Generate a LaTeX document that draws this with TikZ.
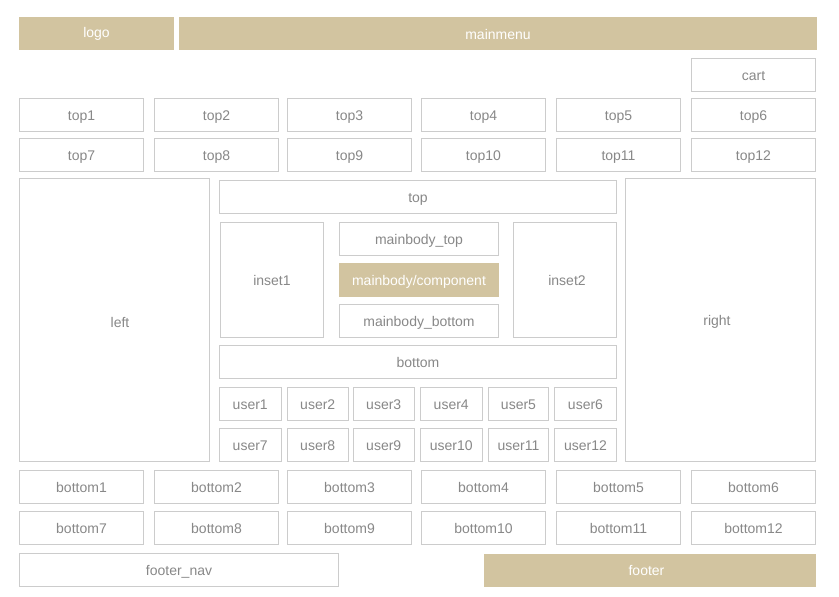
\documentclass[tikz,border=0pt]{standalone}
\usepackage{fontspec}
\setmainfont{Liberation Sans}
\definecolor{tan}{RGB}{210,196,160}
\definecolor{bord}{RGB}{204,204,204}
\definecolor{txt}{RGB}{136,136,136}
\newcommand\bx[7]{\node[#7, minimum width={#4pt-#2pt}, minimum height={#5pt-#3pt}] (#1) at ({(#2+#4)/2},{(#3+#5)/2}) {#6};}
\begin{document}
\begin{tikzpicture}[x=1pt,y=-1pt,
  every node/.style={inner sep=0pt, outer sep=0pt, text height=11pt, text depth=0pt, font=\fontsize{14}{16}\selectfont},
  wbox/.style={draw=bord, line width=1pt, fill=white, text=txt},
  tbox/.style={fill=tan, text=white}]
\useasboundingbox (0,0) rectangle (839,597);
\fill[white] (0,0) rectangle (839,597);
\bx{logo}{19}{17}{174}{50}{logo}{tbox, text depth=4pt}
\bx{mainmenu}{179}{17}{817}{50}{mainmenu}{tbox}
\bx{cart}{691.5}{58.5}{815.5}{91.5}{cart}{wbox}
% top rows
\bx{top1}{19.5}{98.5}{143.5}{131.5}{top1}{wbox}
\bx{top2}{154.5}{98.5}{278.5}{131.5}{top2}{wbox}
\bx{top3}{287.5}{98.5}{411.5}{131.5}{top3}{wbox}
\bx{top4}{421.5}{98.5}{545.5}{131.5}{top4}{wbox}
\bx{top5}{556.5}{98.5}{680.5}{131.5}{top5}{wbox}
\bx{top6}{691.5}{98.5}{815.5}{131.5}{top6}{wbox}
\bx{top7}{19.5}{138.5}{143.5}{171.5}{top7}{wbox}
\bx{top8}{154.5}{138.5}{278.5}{171.5}{top8}{wbox}
\bx{top9}{287.5}{138.5}{411.5}{171.5}{top9}{wbox}
\bx{top10}{421.5}{138.5}{545.5}{171.5}{top10}{wbox}
\bx{top11}{556.5}{138.5}{680.5}{171.5}{top11}{wbox}
\bx{top12}{691.5}{138.5}{815.5}{171.5}{top12}{wbox}
% middle
\bx{left}{19.5}{178.5}{209.5}{461.5}{\hspace*{11pt}left}{wbox, text height=14pt}
\bx{right}{625.5}{178.5}{815.5}{461.5}{right\hspace*{7pt}}{wbox}
\bx{top}{219.5}{180.5}{616.5}{213.5}{top}{wbox}
\bx{inset1}{220.5}{222.5}{323.5}{337.5}{inset1}{wbox}
\bx{mbtop}{339.5}{222.5}{498.5}{255.5}{mainbody\_top}{wbox}
\bx{comp}{339}{263}{499}{297}{mainbody/component}{tbox}
\bx{mbbottom}{339.5}{304.5}{498.5}{337.5}{mainbody\_bottom}{wbox}
\bx{inset2}{513.5}{222.5}{616.5}{337.5}{\hspace*{4pt}inset2}{wbox}
\bx{bottom}{219.5}{345.5}{616.5}{378.5}{bottom}{wbox}
% users
\bx{user1}{219.5}{387.5}{281}{420.5}{user1}{wbox}
\bx{user2}{287.5}{387.5}{348}{420.5}{user2}{wbox}
\bx{user3}{353.5}{387.5}{414}{420.5}{user3}{wbox}
\bx{user4}{420.5}{387.5}{482}{420.5}{user4}{wbox}
\bx{user5}{488.5}{387.5}{548.5}{420.5}{user5}{wbox}
\bx{user6}{554.5}{387.5}{616.5}{420.5}{user6}{wbox}
\bx{user7}{219.5}{428.5}{281}{461.5}{user7}{wbox}
\bx{user8}{287.5}{428.5}{348}{461.5}{user8}{wbox}
\bx{user9}{353.5}{428.5}{414}{461.5}{user9}{wbox}
\bx{user10}{420.5}{428.5}{482}{461.5}{user10}{wbox}
\bx{user11}{488.5}{428.5}{548.5}{461.5}{user11}{wbox}
\bx{user12}{554.5}{428.5}{616.5}{461.5}{user12}{wbox}
% bottom rows
\bx{bottom1}{19.5}{470.5}{143.5}{503.5}{bottom1}{wbox}
\bx{bottom2}{154.5}{470.5}{278.5}{503.5}{bottom2}{wbox}
\bx{bottom3}{287.5}{470.5}{411.5}{503.5}{bottom3}{wbox}
\bx{bottom4}{421.5}{470.5}{545.5}{503.5}{bottom4}{wbox}
\bx{bottom5}{556.5}{470.5}{680.5}{503.5}{bottom5}{wbox}
\bx{bottom6}{691.5}{470.5}{815.5}{503.5}{bottom6}{wbox}
\bx{bottom7}{19.5}{511.5}{143.5}{544.5}{bottom7}{wbox}
\bx{bottom8}{154.5}{511.5}{278.5}{544.5}{bottom8}{wbox}
\bx{bottom9}{287.5}{511.5}{411.5}{544.5}{bottom9}{wbox}
\bx{bottom10}{421.5}{511.5}{545.5}{544.5}{bottom10}{wbox}
\bx{bottom11}{556.5}{511.5}{680.5}{544.5}{bottom11}{wbox}
\bx{bottom12}{691.5}{511.5}{815.5}{544.5}{bottom12}{wbox}
% footer
\bx{footernav}{19.5}{553.5}{338.5}{586.5}{footer\_nav}{wbox}
\bx{footer}{484}{554}{816}{587}{footer\hspace*{7pt}}{tbox, text depth=2pt}
\end{tikzpicture}
\end{document}
